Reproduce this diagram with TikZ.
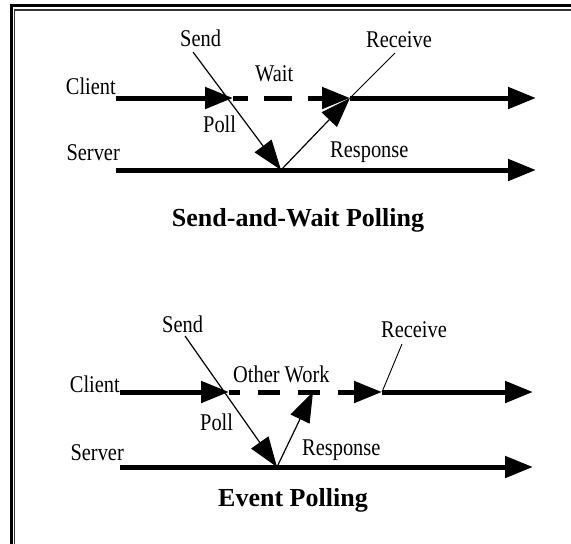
\documentclass[tikz,border=0pt]{standalone}
\usepackage{fontspec}
\setmainfont{Liberation Serif}
\newfontfamily\narrowserif[FakeStretch=0.85]{Liberation Serif}
\usetikzlibrary{arrows.meta}

\begin{document}
\begin{tikzpicture}[x=1pt, y=-1pt,
    timeline/.style={line width=5pt, -{Triangle[length=28pt, width=21pt]}},
    message/.style={line width=1.2pt, -{Triangle[length=30pt, width=21pt]}},
    leader/.style={line width=0.9pt},
    lbl/.style={font=\narrowserif\fontsize{24}{28}\selectfont, inner sep=0pt},
    heading/.style={font=\fontsize{26}{30}\selectfont\bfseries, inner sep=0pt}]
    \useasboundingbox (0,0) rectangle (571,544);
    % frame
    \draw[line width=2.7pt] (11.3,544) |- (571,5.3);
    \draw[line width=1.3pt, black!80] (14.7,544) |- (571,10);

    % send-and-wait polling
    \coordinate (cstartA) at (116,98);
    \coordinate (cpollA) at (233,98);
    \coordinate (crecvA) at (350,98);
    \coordinate (cendA) at (536,98);
    \coordinate (sstartA) at (116,170);
    \coordinate (shitA) at (281,170);
    \coordinate (sendA) at (536,170);
    \coordinate (sendtopA) at (193,52);
    \coordinate (recvtopA) at (395,53);
    \node[lbl, anchor=base east] (clientA) at (116,94) {Client};
    \node[lbl, anchor=base east] (serverA) at (120,160) {Server};
    \node[lbl, anchor=base west] (sendlblA) at (180,46) {Send};
    \node[lbl, anchor=base west] (waitA) at (255,81) {Wait};
    \node[lbl, anchor=base west] (recvlblA) at (366,47) {Receive};
    \node[lbl, anchor=base west] (pollA) at (203,132) {Poll};
    \node[lbl, anchor=base west] (respA) at (330,157) {Response};
    \node[heading, anchor=base] (titleA) at (298,226) {Send-and-Wait Polling};
    \draw[timeline] (cstartA) -- (cpollA);
    \draw[timeline, dash pattern=on 28pt off 16pt, dash phase=13pt] (cpollA) -- (crecvA);
    \draw[timeline] (crecvA) -- (cendA);
    \draw[timeline] (sstartA) -- (sendA);
    \draw[message] (sendtopA) -- (shitA);
    \draw[message] (shitA) -- (crecvA);
    \draw[leader] (recvtopA) -- (crecvA);

    % event polling
    \coordinate (cstartB) at (120,392);
    \coordinate (cpollB) at (229,392);
    \coordinate (cworkB) at (313,392);
    \coordinate (crecvB) at (382,392);
    \coordinate (cendB) at (533,392);
    \coordinate (sstartB) at (120,467);
    \coordinate (shitB) at (277,467);
    \coordinate (sendB) at (533,467);
    \coordinate (sendtopB) at (185,336);
    \coordinate (recvtopB) at (402,344);
    \node[lbl, anchor=base east] (clientB) at (120,392) {Client};
    \node[lbl, anchor=base east] (serverB) at (124,460) {Server};
    \node[lbl, anchor=base west] (sendlblB) at (162,332) {Send};
    \node[lbl, anchor=base west] (workB) at (233,382) {Other Work};
    \node[lbl, anchor=base west] (recvlblB) at (381,337) {Receive};
    \node[lbl, anchor=base west] (pollB) at (200,430) {Poll};
    \node[lbl, anchor=base west] (respB) at (302,455) {Response};
    \node[heading, anchor=base] (titleB) at (293,506) {Event Polling};
    \draw[timeline] (cstartB) -- (cpollB);
    \draw[timeline, dash pattern=on 22pt off 18pt, dash phase=11pt] (cpollB) -- (crecvB);
    \draw[timeline] (crecvB) -- (cendB);
    \draw[timeline] (sstartB) -- (sendB);
    \draw[message] (sendtopB) -- (shitB);
    \draw[message] (shitB) -- (cworkB);
    \draw[leader] (recvtopB) -- (crecvB);
\end{tikzpicture}
\end{document}
